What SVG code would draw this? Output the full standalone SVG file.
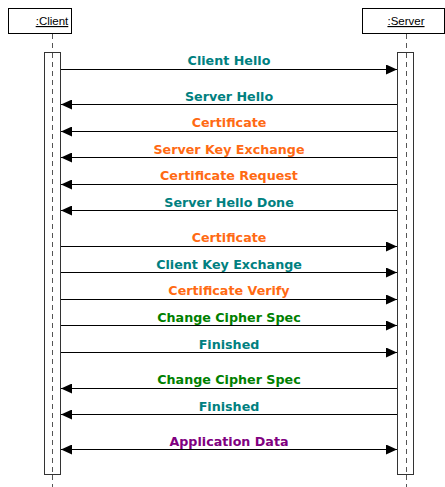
<svg xmlns="http://www.w3.org/2000/svg" width="445" height="487" viewBox="0 0 445 487">
<style>
.obj{fill:#fff;stroke:#000;stroke-width:1}
.objt{font-family:"Liberation Sans",Arial,sans-serif;font-size:11.5px;fill:#000;text-decoration:underline;text-anchor:middle}
.life{stroke:#555;stroke-width:1;stroke-dasharray:5,4}
.act{fill:#fff;stroke:#333;stroke-width:1}
.msg{stroke:#000;stroke-width:1;fill:none}
.lbl{font-family:"DejaVu Sans",Verdana,sans-serif;font-size:12.7px;font-weight:bold;text-anchor:middle}
.teal{fill:#008080}.orange{fill:#ff6a13}.green{fill:#008000}.purple{fill:#800080}
</style>
<defs>
<marker id="ah" viewBox="0 0 11 10" refX="11" refY="5" markerWidth="11" markerHeight="10" markerUnits="userSpaceOnUse" orient="auto-start-reverse">
<path d="M0,0 L11,5 L0,10 Z" fill="#000"/>
</marker>
</defs>
<g id="client">
<rect class="obj" x="8.5" y="8.5" width="63" height="25"/>
<text class="objt" x="52" y="25">:Client</text>
<line class="life" x1="52.5" y1="34" x2="52.5" y2="487"/>
<rect class="act" x="44.5" y="52.5" width="16" height="422"/>
<line class="life" x1="52.5" y1="53" x2="52.5" y2="474"/>
</g>
<g id="server">
<rect class="obj" x="362.5" y="8.5" width="82" height="25"/>
<text class="objt" x="406" y="25">:Server</text>
<line class="life" x1="406.5" y1="34" x2="406.5" y2="487"/>
<rect class="act" x="397.5" y="52.5" width="16" height="422"/>
<line class="life" x1="406.5" y1="53" x2="406.5" y2="474"/>
</g>
<g id="connectors">
<line class="msg" x1="61" y1="69.5" x2="397" y2="69.5" marker-end="url(#ah)"/>
<line class="msg" x1="397" y1="104.5" x2="61" y2="104.5" marker-end="url(#ah)"/>
<line class="msg" x1="397" y1="131.5" x2="61" y2="131.5" marker-end="url(#ah)"/>
<line class="msg" x1="397" y1="157.5" x2="61" y2="157.5" marker-end="url(#ah)"/>
<line class="msg" x1="397" y1="184.5" x2="61" y2="184.5" marker-end="url(#ah)"/>
<line class="msg" x1="397" y1="210.5" x2="61" y2="210.5" marker-end="url(#ah)"/>
<line class="msg" x1="61" y1="246.5" x2="397" y2="246.5" marker-end="url(#ah)"/>
<line class="msg" x1="61" y1="272.5" x2="397" y2="272.5" marker-end="url(#ah)"/>
<line class="msg" x1="61" y1="299.5" x2="397" y2="299.5" marker-end="url(#ah)"/>
<line class="msg" x1="61" y1="325.5" x2="397" y2="325.5" marker-end="url(#ah)"/>
<line class="msg" x1="61" y1="352.5" x2="397" y2="352.5" marker-end="url(#ah)"/>
<line class="msg" x1="397" y1="388.5" x2="61" y2="388.5" marker-end="url(#ah)"/>
<line class="msg" x1="397" y1="414.5" x2="61" y2="414.5" marker-end="url(#ah)"/>
<line class="msg" x1="61" y1="449.5" x2="397" y2="449.5" marker-start="url(#ah)" marker-end="url(#ah)"/>
</g>
<g id="labels">
<text class="lbl teal" x="229" y="65">Client Hello</text>
<text class="lbl teal" x="229" y="101">Server Hello</text>
<text class="lbl orange" x="229" y="127">Certificate</text>
<text class="lbl orange" x="229" y="154">Server Key Exchange</text>
<text class="lbl orange" x="229" y="180">Certificate Request</text>
<text class="lbl teal" x="229" y="207">Server Hello Done</text>
<text class="lbl orange" x="229" y="242">Certificate</text>
<text class="lbl teal" x="229" y="269">Client Key Exchange</text>
<text class="lbl orange" x="229" y="295">Certificate Verify</text>
<text class="lbl green" x="229" y="322">Change Cipher Spec</text>
<text class="lbl teal" x="229" y="349">Finished</text>
<text class="lbl green" x="229" y="384">Change Cipher Spec</text>
<text class="lbl teal" x="229" y="411">Finished</text>
<text class="lbl purple" x="229" y="446">Application Data</text>
</g>
</svg>
